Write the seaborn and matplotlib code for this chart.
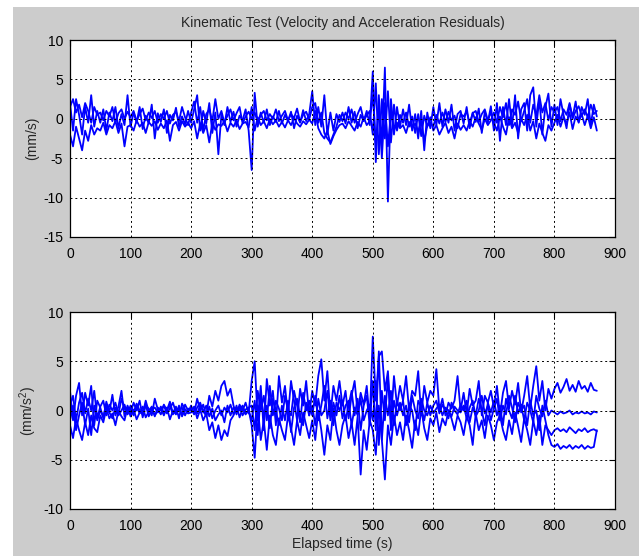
import numpy as np
import pandas as pd
import matplotlib
matplotlib.use("Agg")
import matplotlib.pyplot as plt
import matplotlib.patches as mpatches
import seaborn as sns

# ---------------- data (5 s spacing) ----------------
time_s = list(range(0, 875, 5))

vel_1 = [2.0, -1.5, 2.5, 0.5, -2.0, 1.5, -0.5, 3.0, -1.0, 1.0,
         -0.5, 1.2, -1.5, 0.8, -0.3, 1.5, -1.2, 0.6, -0.8, 3.0,
         -1.0, 0.8, -0.5, 1.5, -1.3, 0.4, -0.6, 1.8, -2.5, 0.7,
         -0.4, 1.2, -1.8, 0.5, -0.2, 1.4, -1.0, 0.3, -0.7, 1.0,
         -0.5, 1.2, 3.0, -1.5, 1.0, -0.6, 2.0, -1.8, 0.8, -4.5,
         0.5, -0.8, 1.5, -0.4, 0.9, -1.0, 0.4, -0.2, 1.2, -1.5,
         -6.5, 3.3, -1.0, 0.8, -0.5, 1.2, -0.8, 0.3, -0.4, 1.0,
         -0.6, 0.5, -0.3, 0.9, -1.2, 0.4, -0.5, 1.1, -0.3, 0.6,
         3.5, -0.8, 1.5, -1.0, 3.0, -2.0, 0.8, -1.5, 0.6, -0.4,
         0.8, -0.6, 1.5, -0.5, 0.9, -1.2, 0.5, -0.3, 1.0, -0.8,
         6.0, -5.5, 3.0, -3.5, 6.5, -10.5, 2.5, -2.0, 1.5, -1.0,
         1.2, -0.8, 1.8, -1.5, 0.6, -2.5, 1.0, -4.0, 0.8, -1.2,
         1.5, -0.8, 2.0, -1.0, 1.2, -0.5, 1.8, -1.5, 0.6, 1.0,
         -0.6, 1.5, -1.2, 0.8, -0.4, 1.3, -1.8, 0.9, -0.5, 1.6,
         -1.5, 2.0, -2.8, 1.5, -0.8, 2.5, -1.0, 3.0, -2.5, 1.2,
         2.0, -1.5, 3.0, 4.0, -1.0, 2.5, -2.0, 1.5, 3.2, -1.0,
         1.8, -0.8, 2.5, 0.5, -1.2, 1.8, 0.2, 2.2, -0.5, 1.5,
         0.5, 2.5, -0.8, 1.8, 0.3]

vel_2 = [1.5, 2.5, 0.8, 1.8, 0.2, 2.0, 1.0, -0.5, 1.5, 0.5,
         0.8, -0.2, 1.0, 0.3, 1.5, -0.5, 0.7, 1.2, 0.0, 0.9,
         0.2, 1.0, -0.3, 0.6, 1.3, -0.2, 0.8, 0.1, 1.0, -0.5,
         0.6, 0.0, 1.0, -0.6, 0.5, 0.9, -0.3, 1.5, 0.2, -0.8,
         0.8, 2.2, -0.5, 1.5, -1.5, 0.6, 1.2, -0.3, 2.5, 0.0,
         1.0, -0.5, 0.4, 1.2, -0.2, 0.7, 1.5, -0.6, 0.3, 0.9,
         0.0, 0.8, -0.4, 0.5, 1.0, -0.2, 0.6, 0.0, 1.2, -0.3,
         0.4, 1.0, -0.2, 0.6, 0.1, 1.3, -0.4, 0.5, 0.9, -0.1,
         1.5, 2.0, -0.5, 0.8, -1.8, -2.5, -3.0, -2.0, -1.0, 0.5,
         -0.3, 0.8, 0.0, 1.2, -0.5, 0.6, 1.5, -0.2, 0.4, 1.0,
         -2.0, 4.5, -4.5, 2.5, -2.5, 3.5, -3.0, 1.8, -1.5, 0.5,
         -0.5, 0.8, -1.0, 0.3, -1.8, 0.6, -2.2, 0.4, -1.0, 0.2,
         -1.5, -0.8, -2.0, -1.2, -0.5, -1.8, -1.0, -2.5, -0.6, -1.4,
         -0.8, -1.5, -0.3, -1.0, 0.2, -0.6, -1.4, 0.0, -0.8, -0.2,
         0.8, -0.5, 1.5, 0.2, 2.0, -0.8, 1.2, 0.5, 2.2, -0.3,
         1.0, 2.5, -0.5, 1.8, 0.4, 3.0, 0.8, 2.0, -0.2, 1.5,
         0.8, 1.5, -0.3, 1.2, 0.5, 2.0, 0.0, 1.0, 1.6, 0.4,
         1.2, 0.2, 1.8, 0.6, 1.0]

vel_3 = [-2.0, -3.5, -1.0, -2.5, -4.0, -1.5, -2.8, -0.8, -2.0, -1.2,
         -1.5, -0.5, -2.0, -0.8, -1.2, -0.3, -1.8, -0.6, -3.5, -1.0,
         -0.8, -1.5, -0.2, -1.0, -0.5, -1.8, -0.4, -0.9, -0.3, -1.4,
         -0.6, -1.2, -0.2, -2.8, -0.8, -0.4, -1.5, -0.3, -1.0, -0.5,
         -1.2, -0.3, -2.5, -0.6, -1.8, -0.8, -3.0, -0.5, -1.4, -0.7,
         -0.9, -0.3, -1.6, -0.5, -1.0, -0.2, -1.3, -0.6, -0.4, -1.1,
         1.5, -1.5, 0.2, -0.8, -0.3, -1.2, 0.0, -0.7, -0.2, -1.0,
         -0.4, -1.1, -0.2, -0.8, 0.1, -0.6, -1.0, -0.3, -0.7, -0.1,
         -0.6, 1.0, -1.2, -2.0, -2.5, -1.5, -3.2, -2.2, -1.4, -0.8,
         -0.6, -1.2, -0.3, -0.9, -1.5, -0.4, -1.0, 0.2, -0.8, -0.3,
         3.0, -3.0, 1.5, -5.0, 2.0, -3.5, 1.0, -1.5, -0.5, -1.2,
         -0.8, -1.8, -0.4, -1.2, -0.6, -1.6, -0.3, -2.8, -0.9, -0.5,
         -1.0, 0.5, -0.6, 0.8, -0.4, 0.9, -0.2, 0.4, -1.2, 0.6,
         0.3, 0.9, -0.5, 0.7, 1.0, -0.4, 0.6, 1.2, -0.2, 0.8,
         -0.5, -1.5, 0.3, -1.0, -2.0, 0.2, -1.2, -0.5, -1.8, 0.0,
         -0.8, 0.5, -1.5, -0.3, -2.5, -0.6, -1.8, -2.8, -0.8, -1.5,
         -0.5, 0.5, -1.0, 0.2, -0.6, 0.8, -1.3, 0.3, -0.4, 0.6,
         -0.8, 0.4, -1.2, 0.2, -1.5]

acc_1 = [2.0, -1.0, 1.5, 2.8, -0.5, 1.8, 0.5, 2.5, -1.5, 1.0,
         0.3, -0.8, 0.9, -0.2, 1.6, -0.5, 0.4, 2.0, -0.6, 0.5,
         -0.3, 0.8, 0.0, 1.0, -0.7, 0.5, 0.2, -0.5, 1.2, 0.1,
         -0.4, 0.6, 0.0, 0.9, -0.3, 0.4, -0.8, 0.7, 0.1, -0.2,
         0.5, -0.3, 1.2, 0.0, 0.6, -0.5, 1.5, 0.4, 2.0, 1.0,
         2.5, 3.0, 1.5, 2.2, 0.5, -0.4, 0.6, 0.0, 0.8, -0.3,
         3.0, 5.0, -1.0, 2.5, -2.0, 3.2, 0.5, 2.0, -1.5, 3.5,
         0.8, 2.5, -0.5, 3.0, 1.0, -1.0, 2.2, 0.5, 3.0, -0.5,
         2.0, 0.5, 3.5, 5.2, 1.0, 4.0, -0.5, 2.5, 1.0, 3.0,
         0.5, 2.0, -0.8, 1.5, 3.0, -0.3, 1.8, 0.6, 2.5, -1.0,
         7.5, 1.0, 5.5, 6.0, 2.0, 4.0, -1.0, 3.5, 0.5, 2.5,
         1.0, 3.5, 0.0, 2.0, 1.5, 4.0, -0.5, 2.5, 0.8, 2.0,
         1.5, 4.2, 0.0, 1.2, -0.5, 0.8, 0.2, 1.0, 3.5, 0.0,
         1.8, -0.3, 2.2, 0.5, 1.0, 3.0, -0.5, 1.5, 0.8, 2.0,
         0.3, 2.5, -0.5, 1.8, 3.0, 0.2, 2.0, 0.6, 2.8, -0.2,
         1.5, 3.5, 0.2, 2.5, 4.5, 1.0, 3.0, 0.0, 2.2, 1.2,
         2.2, 2.8, 1.8, 2.4, 3.2, 2.0, 2.6, 1.9, 3.0, 2.2,
         2.5, 1.9, 2.8, 2.1, 2.0]

acc_2 = [-1.5, -2.8, -0.8, -2.0, -3.0, -1.2, -2.5, -0.5, -1.8, -2.2,
         -0.5, -1.2, 0.2, -0.8, -0.3, -1.5, 0.0, -0.6, -1.0, 0.3,
         -0.6, 0.1, -0.9, -0.2, 0.4, -0.7, -0.1, 0.3, -0.5, 0.0,
         0.2, -0.5, 0.3, -0.9, 0.0, -0.4, 0.5, -0.6, 0.1, -0.3,
         -0.2, 0.4, -0.8, 0.1, -1.0, -0.3, -2.0, -1.2, -2.8, -1.5,
         -3.0, -2.0, -2.6, -1.0, -0.5, 0.5, -0.7, 0.2, -0.4, 0.1,
         -1.5, -4.8, 0.5, -3.0, -1.0, -4.0, -0.5, -2.5, -3.5, -0.8,
         -2.0, -3.0, -0.5, -1.8, -3.5, -1.0, -2.5, -0.2, -1.5, -2.8,
         -1.0, -3.0, 0.0, -2.0, -4.5, -1.5, -3.0, 0.2, -2.0, -3.5,
         -1.5, -0.5, -2.8, -1.2, -3.5, -0.6, -6.5, -2.0, -4.0, -1.0,
         -2.0, -4.5, 0.5, -3.0, -7.0, -1.5, -3.5, -0.5, -2.5, -1.2,
         -3.0, -0.5, -2.0, -3.8, -1.0, -2.5, 0.2, -1.8, -3.0, -0.8,
         -1.5, -0.2, -2.2, -0.8, -1.5, 0.0, -0.8, -2.0, -0.5, -1.2,
         -2.5, -0.6, -1.5, -3.5, -0.3, -2.0, -1.0, -2.8, -0.5, -1.5,
         -3.0, -1.2, -0.5, -2.0, -3.0, -1.0, -2.4, -0.2, -1.6, -3.2,
         -0.8, -2.0, -3.5, -1.0, -2.5, -0.5, -3.5, -1.5, -2.0, -2.5,
         -2.0, -1.8, -2.1, -1.9, -2.2, -1.7, -2.0, -2.3, -1.9, -2.1,
         -1.8, -2.2, -2.0, -1.9, -2.1]

acc_3 = [0.5, 1.5, -1.0, 0.8, 1.8, -0.3, 1.2, 0.0, 2.0, -0.8,
         0.4, 1.0, -0.5, 0.6, 0.0, 0.8, -0.4, 1.2, 0.2, -0.3,
         0.5, -0.2, 0.7, 0.0, -0.4, 1.0, -0.1, 0.4, -0.6, 0.3,
         0.0, 0.5, -0.3, 0.2, 0.8, -0.2, 0.3, -0.5, 0.6, 0.0,
         0.2, -0.4, 0.3, 0.8, -0.2, 0.5, -0.6, 0.2, -1.0, -0.4,
         0.0, -1.2, 0.5, -0.5, 0.3, -0.2, 0.4, -0.5, 0.1, 0.3,
         0.5, -2.0, 2.0, 0.0, 1.5, -1.0, 2.5, -0.5, 1.0, 0.2,
         -1.0, 1.5, 0.0, -0.5, 2.0, 0.5, -1.2, 1.8, 0.0, 1.0,
         -0.5, 1.5, -1.0, 0.5, 2.5, -0.8, 1.0, -1.5, 0.8, 0.0,
         1.0, -1.0, 0.5, 2.0, -0.5, 1.2, -2.0, 0.5, 1.5, -1.5,
         3.0, -2.0, 6.0, -3.0, 1.5, -0.5, 2.0, -1.5, 1.0, 0.0,
         1.0, -1.5, 0.5, 0.0, -2.0, 1.0, 0.3, -1.0, 0.8, -0.5,
         0.5, 1.0, -0.3, 0.6, 0.0, -0.8, 0.8, 0.0, -0.4, 0.6,
         0.0, 1.0, -1.2, 0.3, -0.5, 1.2, 0.0, -1.5, 0.8, -0.2,
         1.0, -0.5, 0.5, -1.5, 1.2, 0.0, -0.8, 1.5, -0.3, 0.6,
         -1.0, 0.8, 0.0, -1.2, 1.5, 0.2, -0.6, 1.0, -0.5, 0.0,
         -0.2, -0.4, -0.1, -0.3, -0.2, 0.0, -0.4, -0.2, -0.3, -0.1,
         -0.3, -0.2, -0.4, -0.1, -0.2]

acc_4 = [-1.0, 0.5, -2.0, -0.5, 0.8, -1.5, 0.2, -2.5, 0.5, -1.0,
         0.0, -0.6, 0.5, -0.2, -0.8, 0.3, -0.5, 0.0, 0.6, -0.4,
         0.2, -0.5, 0.4, -0.3, 0.0, 0.6, -0.6, 0.1, 0.3, -0.2,
         0.4, -0.2, 0.1, 0.5, -0.4, 0.2, 0.0, 0.3, -0.5, 0.2,
         0.0, 0.3, -0.3, 0.5, 0.0, -0.6, 0.4, -0.8, 0.0, 0.5,
         -0.5, 0.3, -0.2, 0.6, -0.4, 0.2, 0.0, 0.5, -0.3, 0.0,
         -1.0, 1.0, -2.5, 1.5, -0.5, 0.5, -1.8, 1.2, 0.0, -1.5,
         0.5, -1.0, 1.0, -2.2, 0.3, 1.2, -0.6, -1.5, 0.8, -0.5,
         0.5, -1.5, 1.2, -0.5, 0.0, 2.0, -1.0, 0.8, -0.5, 1.5,
         -0.8, 0.5, 1.0, -1.5, 0.3, -0.5, 1.2, -1.0, 0.0, 0.6,
         -1.0, 3.0, -3.5, 2.0, -1.0, 3.5, -2.0, 1.0, -0.5, 0.8,
         -0.5, 0.5, -1.2, 1.5, 0.0, -0.8, 1.2, 0.0, -0.5, 0.5,
         -0.3, 0.2, 0.6, -0.5, 0.3, 0.0, -0.6, 0.4, 0.0, -0.2,
         0.5, -0.8, 0.3, 1.0, -0.6, 0.0, 1.5, -0.3, 0.5, -1.0,
         0.2, 1.2, -1.0, 0.5, -0.4, 1.5, 0.3, -1.2, 0.8, 0.0,
         0.5, -1.5, 1.0, -0.5, 0.0, -2.0, 0.5, -1.0, -2.5, -3.5,
         -3.7, -3.4, -3.9, -3.6, -3.8, -3.5, -3.9, -3.6, -3.8, -3.5,
         -3.9, -3.6, -3.8, -3.7, -2.0]

title_text = "Kinematic Test (Velocity and Acceleration Residuals)"
x_ticks = [0, 100, 200, 300, 400, 500, 600, 700, 800, 900]
vel_yticks = [-15, -10, -5, 0, 5, 10]
acc_yticks = [-10, -5, 0, 5, 10]

# ---------------- styling ----------------
sns.set_style("white")
plt.rcParams['font.family'] = ['Liberation Sans', 'DejaVu Sans']
plt.rcParams['mathtext.fontset'] = 'custom'
plt.rcParams['mathtext.rm'] = 'Liberation Sans'
plt.rcParams['mathtext.it'] = 'Liberation Sans'

W, H = 639, 556
fig = plt.figure(figsize=(W / 100, H / 100), dpi=100)
fig.patch.set_facecolor("white")
fig.patches.append(mpatches.Rectangle((13 / W, 0), 1, 1 - 7 / H,
                                      transform=fig.transFigure,
                                      facecolor="#cccccc", edgecolor="none",
                                      zorder=-10))


def frac_box(x0, y0, x1, y1):
    return [x0 / W, 1 - y1 / H, (x1 - x0) / W, (y1 - y0) / H]


ax1 = fig.add_axes(frac_box(70, 40, 615, 237))
ax2 = fig.add_axes(frac_box(70, 312, 615, 509))

vel_df = pd.DataFrame({"t": time_s * 3,
                       "v": vel_1 + vel_2 + vel_3,
                       "s": ["a"] * 175 + ["b"] * 175 + ["c"] * 175})
acc_df = pd.DataFrame({"t": time_s * 4,
                       "v": acc_1 + acc_2 + acc_3 + acc_4,
                       "s": ["a"] * 175 + ["b"] * 175 + ["c"] * 175 + ["d"] * 175})

for ax, df in ((ax1, vel_df), (ax2, acc_df)):
    sns.lineplot(data=df, x="t", y="v", units="s", estimator=None,
                 color="#0000ff", lw=1.3, ax=ax, legend=False)

for ax, yt in ((ax1, vel_yticks), (ax2, acc_yticks)):
    ax.set_facecolor("white")
    ax.set_xlim(0, 900)
    ax.set_ylim(yt[0], yt[-1])
    ax.set_xticks(x_ticks)
    ax.set_yticks(yt)
    ax.set_xticklabels([str(v) for v in x_ticks])
    ax.set_yticklabels([str(v) for v in yt])
    ax.grid(True, color="black", linestyle=(0, (2, 3)), linewidth=0.7)
    ax.tick_params(direction="in", length=4, width=0.8, top=True, right=True,
                   labelsize=10, colors="black", pad=5)
    ax.tick_params(axis="x", pad=7)
    for sp in ax.spines.values():
        sp.set_color("black")
        sp.set_linewidth(0.9)
    ax.set_xlabel("")
    ax.set_ylabel("")
    ax.set_axisbelow(False)

ax1.set_title(title_text, fontsize=10, pad=9)
ax1.set_ylabel("(mm/s)", fontsize=10, labelpad=3)
ax2.set_ylabel("(mm/s$^2$)", fontsize=10, labelpad=3)
ax2.set_xlabel("Elapsed time (s)", fontsize=10, labelpad=3)

fig.savefig("out.png", dpi=100, facecolor=fig.get_facecolor())
